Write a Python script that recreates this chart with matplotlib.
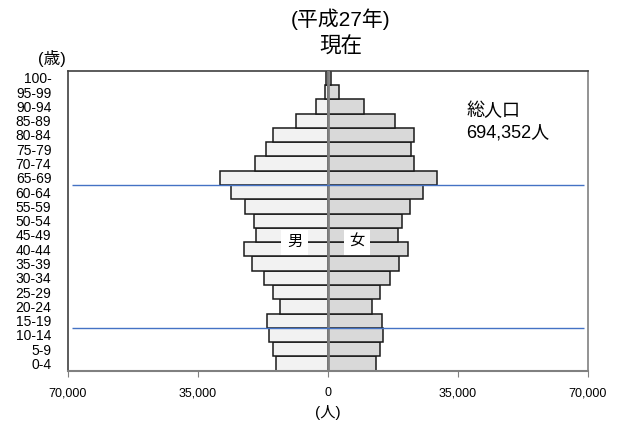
import numpy as np
import matplotlib
matplotlib.use('Agg')
import matplotlib.pyplot as plt

plt.rcParams['font.family'] = ['Liberation Sans', 'Noto Sans CJK JP']

# 年齢階級（下から上へ）
ages = ['0-4', '5-9', '10-14', '15-19', '20-24', '25-29', '30-34', '35-39',
        '40-44', '45-49', '50-54', '55-59', '60-64', '65-69', '70-74',
        '75-79', '80-84', '85-89', '90-94', '95-99', '100-']
male = [14000, 14800, 15800, 16500, 12800, 14700, 17200, 20450, 22600, 19400,
        19800, 22400, 26200, 29100, 19650, 16800, 14800, 8700, 3300, 900, 400]
female = [12900, 13900, 14800, 14700, 12000, 13900, 16600, 19200, 21650, 18950,
          19900, 22000, 25600, 29250, 23150, 22450, 23150, 18200, 9700, 2950, 700]
xticks = [-70000, -35000, 0, 35000, 70000]
xticklabels = ['70,000', '35,000', '0', '35,000', '70,000']
blue_lines = [2.5, 12.5]

fig = plt.figure(figsize=(6.24, 4.23), dpi=100)
ax = fig.add_axes([0.109, 0.1236, 0.833, 0.7094])

y = np.arange(len(ages))
ax.barh(y, -np.array(male), height=1.0, color='#F2F2F2', edgecolor='#1a1a1a', linewidth=1.1, zorder=2)
ax.barh(y, female, height=1.0, color='#D9D9D9', edgecolor='#1a1a1a', linewidth=1.1, zorder=2)
ax.axvline(0, color='#808080', linewidth=2, zorder=3)
ax.hlines(blue_lines, -69000, 69000, color='#4472C4', linewidth=1, zorder=4)

ax.set_xlim(-70000, 70000)
ax.set_ylim(-0.5, len(ages) - 0.5)
ax.set_xticks(xticks)
ax.set_xticklabels(xticklabels, fontsize=9)
ax.set_yticks(y)
ax.set_yticklabels(ages, fontsize=10)
ax.tick_params(axis='y', length=0, pad=12)
ax.tick_params(axis='x', direction='out', length=4, color='#808080', pad=8)
for s in ['top', 'left']:
    ax.spines[s].set_color('#404040')
    ax.spines[s].set_linewidth(1.2)
ax.spines['right'].set_color('#808080')
ax.spines['right'].set_linewidth(1.2)
ax.spines['bottom'].set_color('#808080')
ax.spines['bottom'].set_linewidth(1.5)

box = dict(facecolor='white', edgecolor='none', pad=4)
ax.text(-9000, 8.5, '男', ha='center', va='center', fontsize=11, bbox=box, zorder=5)
ax.text(7800, 8.5, '女', ha='center', va='center', fontsize=11, bbox=box, zorder=5)
ax.text(37300, 16.9, '総人口\n694,352人', ha='left', va='center', fontsize=13,
        linespacing=1.3, zorder=5)

fig.text(0.546, 0.955, '(平成27年)', ha='center', va='center', fontsize=15)
fig.text(0.546, 0.888, '現在', ha='center', va='center', fontsize=15.5)
fig.text(0.083, 0.862, '(歳)', ha='center', va='center', fontsize=12)
fig.text(0.526, 0.025, '(人)', ha='center', va='center', fontsize=11)

fig.savefig('out.png', dpi=100)
